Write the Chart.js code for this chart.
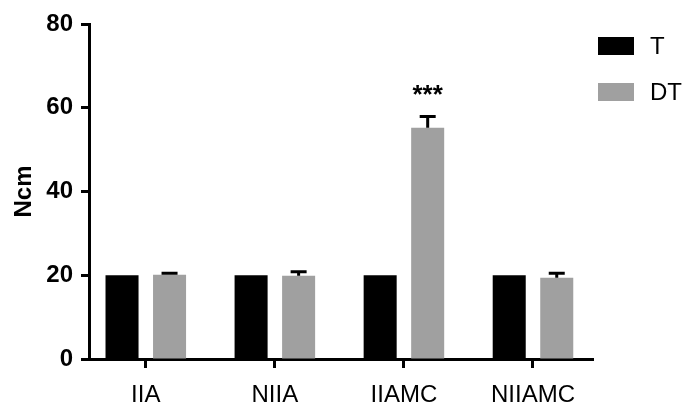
<!DOCTYPE html>
<html>
<head>
<meta charset="utf-8">
<script src="https://cdn.jsdelivr.net/npm/chart.js@4/dist/chart.umd.min.js"></script>
<style>
  html, body { margin: 0; padding: 0; background: #fff; }
  canvas { display: block; }
</style>
</head>
<body>
<canvas id="c" width="690" height="408"></canvas>
<script>
const categories = ['IIA', 'NIIA', 'IIAMC', 'NIIAMC'];
const seriesNames = ['T', 'DT'];
const tValues = [20, 20, 20, 20];
const tErrors = [0, 0, 0, 0];
const dtValues = [20.1, 19.9, 55.2, 19.4];
const dtErrors = [0.4, 0.95, 2.7, 1.1];
const significance = ['', '', '***', ''];
const yTicks = [0, 20, 40, 60, 80];

const FONT = "'Liberation Sans', Arial, Helvetica, sans-serif";
Chart.defaults.font.family = FONT;
Chart.defaults.color = '#000';

const toPoints = (vals) => vals.map((v, i) => ({ x: i, y: v }));

const errorBarPlugin = {
  id: 'errorBars',
  afterDatasetsDraw(chart) {
    const ctx = chart.ctx;
    const yS = chart.scales.y;
    chart.data.datasets.forEach((ds, di) => {
      const meta = chart.getDatasetMeta(di);
      meta.data.forEach((bar, i) => {
        const err = ds.errors ? ds.errors[i] : 0;
        const v = ds.data[i].y;
        const yTop = yS.getPixelForValue(v + (err || 0));
        ctx.save();
        if (err) {
          ctx.strokeStyle = '#000';
          ctx.lineWidth = 3;
          ctx.beginPath();
          ctx.moveTo(bar.x, bar.y);
          ctx.lineTo(bar.x, yTop);
          ctx.moveTo(bar.x - 8, yTop);
          ctx.lineTo(bar.x + 8, yTop);
          ctx.stroke();
        }
        const sig = ds.sig ? ds.sig[i] : '';
        if (sig) {
          ctx.fillStyle = '#000';
          ctx.font = 'bold 26px ' + FONT;
          ctx.textAlign = 'center';
          ctx.textBaseline = 'middle';
          ctx.fillText(sig, bar.x, yTop - 21);
        }
        ctx.restore();
      });
    });
  }
};

const legendPlugin = {
  id: 'sideLegend',
  afterDraw(chart) {
    const ctx = chart.ctx;
    chart.data.datasets.forEach((ds, i) => {
      const y = 37 + i * 46;
      ctx.save();
      ctx.fillStyle = ds.backgroundColor;
      ctx.fillRect(598, y, 36, 18);
      ctx.fillStyle = '#000';
      ctx.font = '24px ' + FONT;
      ctx.textAlign = 'left';
      ctx.textBaseline = 'middle';
      ctx.fillText(ds.label, 650, y + 10);
      ctx.restore();
    });
  }
};

new Chart(document.getElementById('c'), {
  type: 'bar',
  data: {
    datasets: [
      { label: seriesNames[0], data: toPoints(tValues), errors: tErrors, backgroundColor: '#000000', borderWidth: 0 },
      { label: seriesNames[1], data: toPoints(dtValues), errors: dtErrors, sig: significance, backgroundColor: '#a0a0a0', borderWidth: 0 }
    ]
  },
  options: {
    responsive: false,
    animation: false,
    devicePixelRatio: 1,
    categoryPercentage: 0.7364,
    barPercentage: 0.695,
    layout: { padding: { top: 24, right: 97, left: 0, bottom: 0 } },
    plugins: { legend: { display: false }, tooltip: { enabled: false } },
    scales: {
      x: {
        type: 'linear',
        offset: false,
        min: -0.44,
        max: 3.465,
        afterBuildTicks: (s) => { s.ticks = categories.map((_, i) => ({ value: i })); },
        afterFit: (s) => { s.height = 49; },
        ticks: {
          callback: (v) => categories[v],
          autoSkip: false,
          maxRotation: 0,
          minRotation: 0,
          font: { size: 24 },
          color: '#000',
          padding: 13
        },
        grid: { display: true, offset: false, drawOnChartArea: false, tickLength: 9, tickWidth: 3, tickColor: '#000' },
        border: { display: true, color: '#000', width: 3 }
      },
      y: {
        min: 0,
        max: 80,
        afterBuildTicks: (s) => { s.ticks = yTicks.map((v) => ({ value: v })); },
        afterFit: (s) => { s.width = 89; },
        ticks: { font: { size: 24, weight: 'bold' }, color: '#000', padding: 8 },
        grid: { display: true, drawOnChartArea: false, tickLength: 8, tickWidth: 3, tickColor: '#000' },
        border: { display: true, color: '#000', width: 3 },
        title: { display: true, text: 'Ncm', font: { size: 24, weight: 'bold' }, color: '#000', padding: 10 }
      }
    }
  },
  plugins: [errorBarPlugin, legendPlugin]
});
</script>
</body>
</html>
